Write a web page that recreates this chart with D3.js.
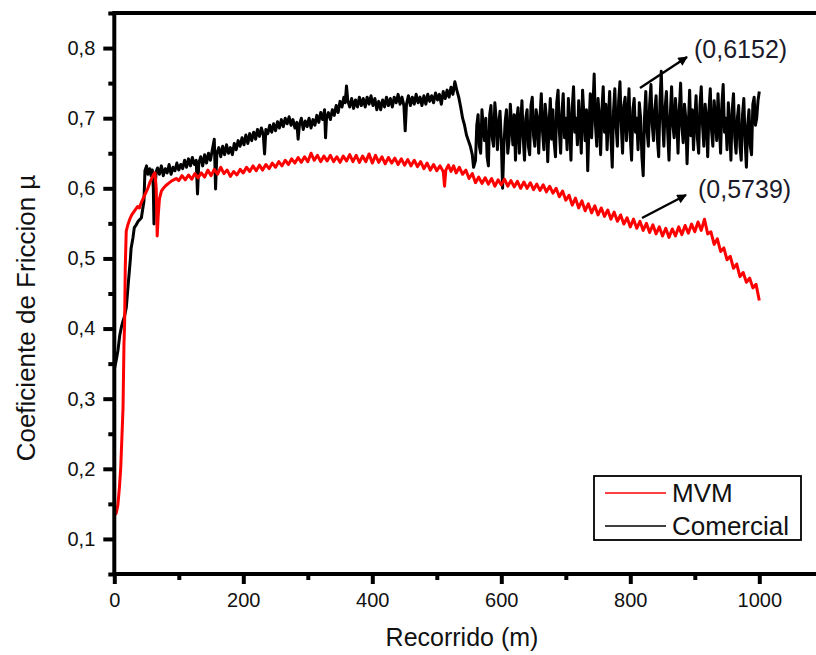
<!DOCTYPE html>
<html><head><meta charset="utf-8">
<script src="https://cdn.jsdelivr.net/npm/d3@7"></script>
<style>body{margin:0;background:#fff}svg{display:block;font-family:"Liberation Sans",Arial,sans-serif}</style>
</head><body><svg id="c" width="816" height="655"></svg>
<script>
// ---- data (distance m, friction coefficient) ----
const seriesNames = ["MVM", "Comercial"];
const xTicks = [0, 200, 400, 600, 800, 1000];
const yTicks = [0.1, 0.2, 0.3, 0.4, 0.5, 0.6, 0.7, 0.8];
const annotations = ["(0,6152)", "(0,5739)"];

const mvm = [[0.5,0.134],[3,0.137],[5.5,0.148],[8,0.174],[10,0.202],[12,0.25],[13.5,0.286],[15,0.378],[16,0.407],[17,0.487],[18.5,0.539],[21,0.548],[24,0.556],[27,0.562],[30,0.566],[33,0.570],[36,0.574],[39,0.572],[42,0.580],[45,0.586],[48,0.592],[52,0.600],[55,0.608],[58,0.614],[61,0.620],[63,0.622],[65,0.600],[66.5,0.532],[68,0.560],[70,0.585],[73,0.596],[76,0.600],[80,0.604],[84,0.607],[88,0.610],[92,0.612],[96,0.614],
[100,0.611],[105,0.618],[110,0.612],[115,0.619],[120,0.613],[125,0.621],[130,0.615],[135,0.622],[140,0.616],[145,0.626],[150,0.618],[155,0.627],[160,0.620],[165,0.630],[170,0.621],[175,0.626],[180,0.617],[185,0.624],[190,0.619],[195,0.627],
[200,0.622],[205,0.630],[210,0.624],[215,0.632],[220,0.625],[225,0.633],[230,0.626],[235,0.634],[240,0.628],[245,0.636],[250,0.630],[255,0.638],[260,0.632],[265,0.640],[270,0.634],[275,0.642],[280,0.636],[285,0.644],[290,0.637],[295,0.645],
[300,0.638],[305,0.650],[310,0.640],[315,0.647],[320,0.638],[325,0.646],[330,0.639],[335,0.647],[340,0.638],[345,0.645],[350,0.637],[355,0.646],[360,0.639],[365,0.648],[370,0.638],[375,0.647],[380,0.637],[385,0.646],[390,0.638],[395,0.649],
[400,0.636],[405,0.647],[410,0.637],[415,0.645],[420,0.635],[425,0.644],[430,0.636],[435,0.643],[440,0.634],[445,0.642],[450,0.633],[455,0.641],[460,0.632],[465,0.640],[470,0.631],[475,0.638],[480,0.628],[485,0.636],[490,0.626],[495,0.634],
[500,0.625],[505,0.632],[510,0.624],[512,0.603],[514,0.626],[518,0.633],[522,0.624],[526,0.632],[530,0.622],[535,0.630],[540,0.620],[545,0.626],[550,0.614],[555,0.621],[560,0.608],[565,0.616],[570,0.607],[575,0.615],[580,0.606],[585,0.614],[590,0.603],[595,0.612],
[600,0.605],[605,0.613],[610,0.603],[615,0.611],[620,0.602],[625,0.610],[630,0.600],[635,0.609],[640,0.600],[645,0.608],[650,0.598],[655,0.606],[660,0.597],[665,0.605],[670,0.595],[675,0.603],[680,0.593],[685,0.600],[690,0.588],[695,0.596],
[700,0.583],[705,0.590],[710,0.576],[715,0.586],[720,0.572],[725,0.582],[730,0.568],[735,0.578],[740,0.565],[745,0.575],[750,0.562],[755,0.572],[760,0.560],[765,0.569],[770,0.556],[775,0.566],[780,0.553],[785,0.562],[790,0.549],[795,0.558],
[800,0.545],[805,0.556],[810,0.543],[815,0.553],[820,0.540],[825,0.550],[830,0.537],[835,0.548],[840,0.535],[845,0.545],[850,0.532],[855,0.543],[860,0.530],[865,0.542],[870,0.532],[875,0.545],[880,0.534],[885,0.547],[890,0.536],[895,0.549],
[900,0.538],[905,0.552],[910,0.540],[915,0.556],[920,0.535],[925,0.538],[930,0.520],[935,0.528],[940,0.510],[945,0.515],[950,0.498],[955,0.503],[960,0.486],[965,0.492],[970,0.474],[975,0.480],[980,0.466],[985,0.472],[990,0.458],[995,0.463],[1000,0.440]];

const comercial = [[0.5,0.344],[3,0.355],[5.7,0.369],[8.4,0.39],[11,0.402],[13.5,0.411],[16,0.418],[18.6,0.43],[22,0.468],[25,0.50],[26,0.514],[29,0.53],[31,0.544],[34,0.548],[37,0.553],[40,0.556],[42,0.558],[44,0.57],[46,0.582],[47.5,0.625],[50,0.632],[52,0.620],[55,0.628],[57,0.618],[59,0.626],[60.5,0.600],[61.5,0.549],[63,0.600],[65,0.624],[67,0.629],[70,0.620],[73,0.632],[76,0.618],[79,0.628],[82,0.622],[85,0.634],[88,0.620],[91,0.630],[94,0.625],[97,0.636],
[100,0.626],[103,0.634],[106,0.628],[109,0.640],[112,0.630],[115,0.642],[118,0.632],[121,0.644],[124,0.634],[127,0.640],[129,0.592],[131,0.636],[134,0.645],[137,0.632],[140,0.648],[143,0.636],[146,0.650],[149,0.640],[152,0.655],[155,0.670],[157,0.599],[159,0.650],[162,0.658],[165,0.645],[168,0.660],[171,0.648],[174,0.662],[177,0.650],[180,0.658],[183,0.648],[186,0.664],[189,0.655],[192,0.668],[195,0.660],[198,0.672],
[201,0.662],[204,0.676],[207,0.664],[210,0.678],[213,0.668],[216,0.680],[219,0.670],[222,0.684],[225,0.674],[228,0.686],[231,0.676],[233,0.649],[235,0.684],[238,0.678],[241,0.690],[244,0.680],[247,0.692],[250,0.682],[253,0.695],[256,0.686],[259,0.698],[262,0.688],[265,0.700],[268,0.692],[271,0.702],[274,0.690],[277,0.698],[280,0.686],[283,0.694],[285,0.670],[287,0.690],[290,0.700],[293,0.684],[296,0.696],[299,0.688],
[302,0.700],[305,0.686],[308,0.698],[311,0.690],[314,0.704],[317,0.694],[320,0.708],[323,0.698],[326,0.712],[327.5,0.672],[329,0.700],[332,0.708],[335,0.698],[338,0.712],[341,0.704],[344,0.718],[347,0.708],[350,0.724],[353,0.716],[356,0.730],[358,0.722],[360,0.746],[362,0.725],[365,0.716],[368,0.728],[371,0.714],[374,0.726],[377,0.716],[380,0.730],[383,0.718],[386,0.728],[389,0.716],[392,0.730],[395,0.720],[398,0.732],
[401,0.718],[404,0.728],[407,0.712],[410,0.724],[413,0.712],[416,0.726],[419,0.716],[422,0.730],[425,0.718],[428,0.728],[431,0.716],[434,0.730],[437,0.722],[440,0.734],[443,0.720],[446,0.730],[449,0.718],[451,0.682],[453,0.720],[456,0.732],[459,0.718],[462,0.730],[465,0.720],[468,0.734],[471,0.722],[474,0.730],[477,0.718],[480,0.732],[483,0.720],[486,0.734],[489,0.724],[492,0.732],[495,0.722],[498,0.736],
[501,0.726],[504,0.734],[507,0.720],[510,0.738],[513,0.728],[516,0.740],[519,0.730],[522,0.744],[525,0.734],[528,0.752],[531,0.740],[534,0.730],[537,0.716],[540,0.700],[543,0.690],[546,0.676],[549,0.668],[552,0.660],[555,0.648],[557,0.630],
[560,0.640],[562,0.690],[564,0.705],[566,0.660],[568,0.650],[570,0.712],[572,0.688],[574,0.668],[576,0.700],[578,0.645],[580,0.632],[582,0.705],[584,0.718],[586,0.672],[588,0.660],[590,0.722],[592,0.700],[594,0.655],[596,0.690],[598,0.710],
[600,0.668],[602,0.600],[604,0.660],[606,0.695],[608,0.712],[610,0.650],[612,0.668],[614,0.720],[616,0.690],[618,0.662],[620,0.705],[622,0.640],[624,0.698],[626,0.715],[628,0.650],[630,0.690],[632,0.725],[634,0.672],[636,0.640],[638,0.700],
[640,0.712],[642,0.660],[644,0.648],[646,0.718],[648,0.730],[650,0.675],[652,0.660],[654,0.712],[656,0.698],[658,0.650],[660,0.702],[662,0.735],[664,0.680],[666,0.655],[668,0.720],[670,0.700],[672,0.638],[674,0.690],[676,0.728],[678,0.670],
[680,0.712],[682,0.665],[684,0.645],[686,0.722],[688,0.740],[690,0.682],[692,0.650],[694,0.708],[696,0.735],[698,0.672],[700,0.700],[702,0.655],[704,0.728],[706,0.690],[708,0.640],[710,0.715],[712,0.745],[714,0.680],[716,0.700],[718,0.662],
[720,0.725],[722,0.690],[724,0.650],[726,0.740],[728,0.705],[730,0.668],[732,0.712],[734,0.625],[736,0.690],[738,0.735],[740,0.672],[742,0.715],[744,0.763],[746,0.690],[748,0.660],[750,0.728],[752,0.700],[754,0.648],[756,0.712],[758,0.745],
[760,0.680],[762,0.720],[764,0.655],[766,0.700],[768,0.738],[770,0.672],[772,0.630],[774,0.710],[776,0.742],[778,0.688],[780,0.660],[782,0.725],[784,0.752],[786,0.690],[788,0.650],[790,0.718],[792,0.730],[794,0.668],[796,0.700],[798,0.742],
[800,0.672],[802,0.640],[804,0.712],[806,0.728],[808,0.680],[810,0.700],[812,0.655],[814,0.722],[816,0.700],[818,0.645],[820,0.618],[822,0.700],[824,0.738],[826,0.682],[828,0.660],[830,0.720],[832,0.748],[834,0.690],[836,0.668],[838,0.712],
[840,0.732],[842,0.670],[844,0.645],[846,0.722],[848,0.767],[850,0.700],[852,0.660],[854,0.715],[856,0.738],[858,0.680],[860,0.640],[862,0.705],[864,0.745],[866,0.690],[868,0.672],[870,0.728],[872,0.700],[874,0.650],[876,0.712],[878,0.750],
[880,0.688],[882,0.665],[884,0.720],[886,0.700],[888,0.635],[890,0.690],[892,0.740],[894,0.675],[896,0.712],[898,0.655],[900,0.700],[902,0.732],[904,0.672],[906,0.650],[908,0.718],[910,0.745],[912,0.690],[914,0.660],[916,0.720],[918,0.700],
[920,0.645],[922,0.712],[924,0.742],[926,0.682],[928,0.660],[930,0.725],[932,0.700],[934,0.668],[936,0.735],[938,0.690],[940,0.650],[942,0.720],[944,0.748],[946,0.680],[948,0.700],[950,0.655],[952,0.722],[954,0.690],[956,0.640],[958,0.712],
[960,0.735],[962,0.672],[964,0.650],[966,0.700],[968,0.718],[970,0.660],[972,0.640],[974,0.705],[976,0.728],[978,0.668],[980,0.630],[982,0.690],[984,0.712],[986,0.660],[988,0.648],[990,0.720],[992,0.730],[994,0.690],[996,0.700],[998,0.725],[1000,0.738]];

// ---- layout ----
const svg = d3.select("#c");
const x = d3.scaleLinear().domain([0, 1100]).range([114.3, 823.8]);
const y = d3.scaleLinear().domain([0.05, 0.85]).range([574, 13]);
const fmt = v => d3.format(".1f")(v).replace(".", ",");
const AX = 4;

const line = d3.line().x(d => x(d[0])).y(d => y(d[1]));
svg.append("path").datum(comercial).attr("d", line)
  .attr("fill", "none").attr("stroke", "#000").attr("stroke-width", 3).attr("stroke-linejoin", "round");
svg.append("path").datum(mvm).attr("d", line)
  .attr("fill", "none").attr("stroke", "#ff0000").attr("stroke-width", 3).attr("stroke-linejoin", "round");

// frame
const f = svg.append("g").attr("stroke", "#000").attr("stroke-width", AX).attr("fill", "none");
f.append("line").attr("x1", x(0)).attr("x2", 830).attr("y1", y(0.85)).attr("y2", y(0.85));
f.append("line").attr("x1", x(0)).attr("x2", 830).attr("y1", y(0.05)).attr("y2", y(0.05));
f.append("line").attr("x1", x(0)).attr("x2", x(0)).attr("y1", y(0.85) - AX / 2).attr("y2", y(0.05) + AX / 2);

// x axis
const xMinor = [100, 300, 500, 700, 900];
const xa = svg.append("g").attr("transform", `translate(0,${y(0.05)})`)
  .call(d3.axisBottom(x).tickValues(xTicks).tickSize(10).tickPadding(9).tickFormat(d3.format("d")));
xa.select(".domain").remove();
xa.selectAll(".tick line").attr("stroke-width", AX);
xa.selectAll(".tick text").attr("font-size", 20).attr("fill", "#111").attr("font-family", '"Liberation Sans",Arial,sans-serif');
const xm = svg.append("g").attr("transform", `translate(0,${y(0.05)})`)
  .call(d3.axisBottom(x).tickValues(xMinor).tickSize(6).tickFormat(""));
xm.select(".domain").remove();
xm.selectAll(".tick line").attr("stroke-width", AX);

// y axis
const yMinor = [0.05, 0.15, 0.25, 0.35, 0.45, 0.55, 0.65, 0.75, 0.85];
const ya = svg.append("g").attr("transform", `translate(${x(0)},0)`)
  .call(d3.axisLeft(y).tickValues(yTicks).tickSize(11).tickPadding(8).tickFormat(fmt));
ya.select(".domain").remove();
ya.selectAll(".tick line").attr("stroke-width", AX);
ya.selectAll(".tick text").attr("font-size", 20).attr("fill", "#111").attr("font-family", '"Liberation Sans",Arial,sans-serif');
const ym = svg.append("g").attr("transform", `translate(${x(0)},0)`)
  .call(d3.axisLeft(y).tickValues(yMinor).tickSize(6).tickFormat(""));
ym.select(".domain").remove();
ym.selectAll(".tick line").attr("stroke-width", AX);

// titles
svg.append("text").attr("x", 462).attr("y", 646).attr("text-anchor", "middle")
  .attr("font-size", 25).attr("fill", "#111").text("Recorrido (m)");
svg.append("text").attr("transform", "translate(35,318) rotate(-90)").attr("text-anchor", "middle")
  .attr("font-size", 26).attr("fill", "#111").text("Coeficiente de Friccion µ");

// legend
const lg = svg.append("g");
lg.append("rect").attr("x", 594).attr("y", 476).attr("width", 207).attr("height", 64)
  .attr("fill", "#fff").attr("stroke", "#000").attr("stroke-width", 1.8);
const legendColors = ["#ff0000", "#000"];
seriesNames.forEach((n, i) => {
  const yy = 493 + i * 33;
  lg.append("line").attr("x1", 605).attr("x2", 666).attr("y1", yy).attr("y2", yy)
    .attr("stroke", legendColors[i]).attr("stroke-width", 1.6);
  lg.append("text").attr("x", 672).attr("y", yy + 9).attr("font-size", 26).attr("fill", "#111").text(n);
});

// annotations with arrows
const defs = svg.append("defs");
defs.append("marker").attr("id", "ah").attr("viewBox", "0 0 10 10").attr("refX", 9).attr("refY", 5)
  .attr("markerWidth", 5).attr("markerHeight", 4).attr("orient", "auto").attr("markerUnits", "strokeWidth")
  .append("path").attr("d", "M0,0L10,5L0,10z").attr("fill", "#000");
const arrows = [[640, 88, 687, 57], [642, 218, 686, 195]];
arrows.forEach(a => svg.append("line").attr("x1", a[0]).attr("y1", a[1]).attr("x2", a[2]).attr("y2", a[3])
  .attr("stroke", "#000").attr("stroke-width", 2.4).attr("marker-end", "url(#ah)"));
svg.append("text").attr("x", 694).attr("y", 58).attr("font-size", 25).attr("fill", "#1a1a2a").text(annotations[0]);
svg.append("text").attr("x", 698).attr("y", 198).attr("font-size", 25).attr("fill", "#1a1a2a").text(annotations[1]);
</script></body></html>
